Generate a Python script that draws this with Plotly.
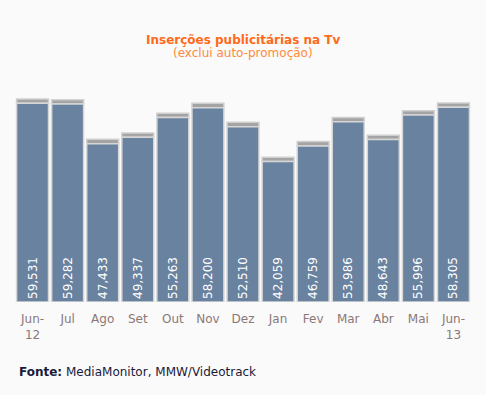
import plotly.graph_objects as go

categories = ["Jun-<br>12", "Jul", "Ago", "Set", "Out", "Nov", "Dez", "Jan", "Fev", "Mar", "Abr", "Mai", "Jun-<br>13"]
values = [59531, 59282, 47433, 49337, 55263, 58200, 52510, 42059, 46759, 53986, 48643, 55996, 58305]
labels = [f"{v:,}" for v in values]

cap = [1300] * len(values)

fig = go.Figure()
# shadow cap behind bars
fig.add_trace(go.Bar(
    x=categories, y=cap, base=values,
    marker=dict(color="#a4a4a4", line=dict(color="#d0d0d0", width=1.5)),
    hoverinfo="skip", showlegend=False, width=0.91,
))
fig.add_trace(go.Bar(
    x=categories, y=values, text=labels,
    textposition="inside", insidetextanchor="start", textangle=-90,
    textfont=dict(color="white", size=12, family="DejaVu Sans"),
    marker=dict(color="#68829f", line=dict(color="#d6d6d6", width=1.5)),
    showlegend=False, width=0.91,
))

fig.update_layout(
    width=486, height=395,
    margin=dict(l=15, r=15, t=95, b=93),
    paper_bgcolor="#fafafa", plot_bgcolor="#fafafa",
    barmode="overlay",
    font=dict(family="DejaVu Sans", size=12),
    xaxis=dict(showgrid=False, showline=False, ticks="outside", ticklen=6,
               tickcolor="rgba(0,0,0,0)", tickangle=0,
               tickfont=dict(color="#8a7878", size=12, family="DejaVu Sans")),
    yaxis=dict(range=[0, 62000], visible=False),
    annotations=[
        dict(text="<b>Inserções publicitárias na Tv</b>", x=0.5, y=40, xref="paper", yref="paper",
             showarrow=False, font=dict(color="#ff6a1a", size=12)),
        dict(text="(exclui auto-promoção)", x=0.5, y=53, xref="paper", yref="paper",
             showarrow=False, font=dict(color="#ff8a3a", size=12)),
        dict(text="<b>Fonte:</b> MediaMonitor, MMW/Videotrack", x=17, y=372, xref="paper", yref="paper",
             showarrow=False, xanchor="left", font=dict(color="#1a1a3a", size=12)),
    ],
)
# convert pixel positions for annotations to paper coords
plot_w = 486 - 15 - 15
plot_h = 395 - 95 - 93
for a in fig.layout.annotations:
    px, py = a.x, a.y
    if a.xanchor == "left":
        a.x = (px - 15) / plot_w
    a.y = (395 - 93 - py) / plot_h
    a.yanchor = "middle"

fig.write_html("out.html", config={"displayModeBar": False},
               post_script="document.body.style.margin='0';document.body.style.background='#fafafa';")
